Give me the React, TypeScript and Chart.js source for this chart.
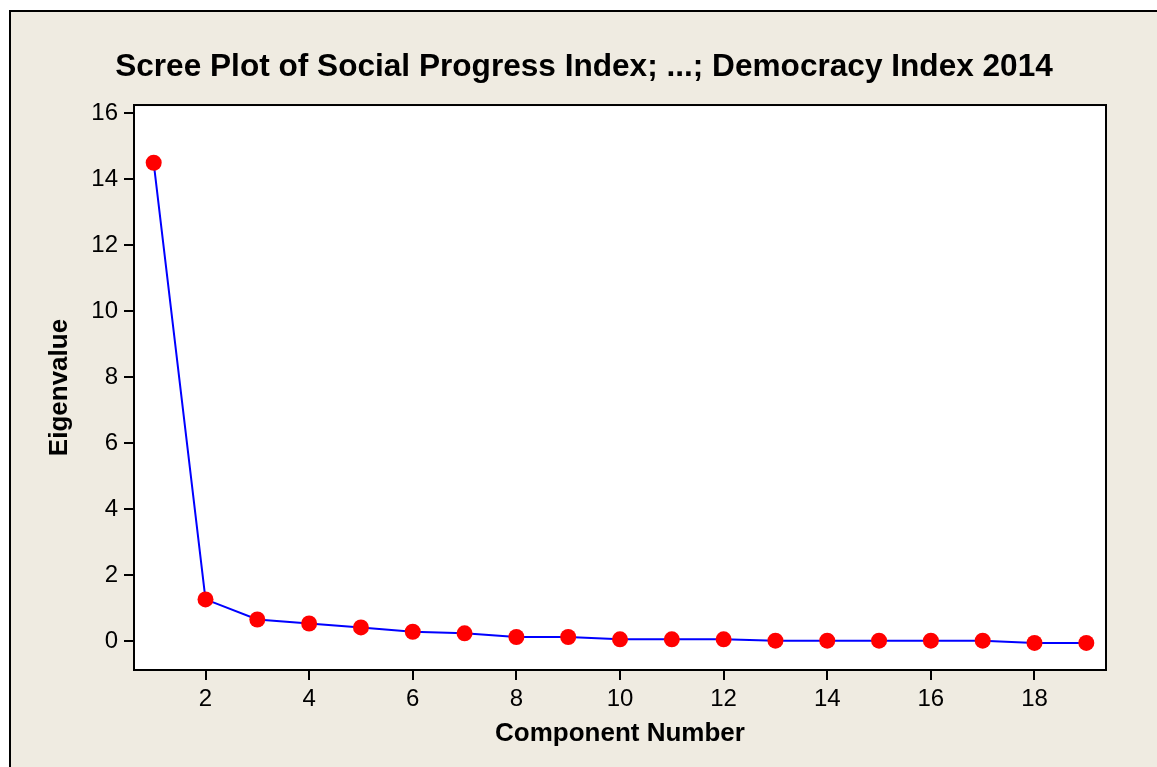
import React, { useEffect, useRef } from "react";
import { Chart, registerables } from "chart.js";

Chart.register(...registerables);

const componentNumbers = [1, 2, 3, 4, 5, 6, 7, 8, 9, 10, 11, 12, 13, 14, 15, 16, 17, 18, 19];
const eigenvalues = [14.5, 1.27, 0.66, 0.54, 0.42, 0.29, 0.24, 0.13, 0.13, 0.06, 0.06, 0.06, 0.02, 0.02, 0.02, 0.02, 0.02, -0.05, -0.05];
const xTickValues = [2, 4, 6, 8, 10, 12, 14, 16, 18];
const yTickValues = [0, 2, 4, 6, 8, 10, 12, 14, 16];
const chartTitle = "Scree Plot of Social Progress Index; ...; Democracy Index 2014";
const xAxisTitle = "Component Number";
const yAxisTitle = "Eigenvalue";

const W = 1157;
const H = 767;
const FONT = "'Liberation Sans', Arial, sans-serif";

const framePlugin = {
  id: "frame",
  beforeDraw(chart: any) {
    const ctx = chart.ctx;
    ctx.save();
    ctx.fillStyle = "#ffffff";
    ctx.fillRect(0, 0, W, H);
    ctx.fillStyle = "#EFEBE1";
    ctx.fillRect(10, 11, W, H);
    ctx.strokeStyle = "#000000";
    ctx.lineWidth = 2;
    ctx.strokeRect(10, 11, W + 40, H + 40);
    const { left, top, right, bottom } = chart.chartArea;
    ctx.fillStyle = "#ffffff";
    ctx.fillRect(left, top, right - left, bottom - top);
    ctx.restore();
  },
  beforeDatasetsDraw(chart: any) {
    const ctx = chart.ctx;
    const { left, top, right, bottom } = chart.chartArea;
    ctx.save();
    ctx.strokeStyle = "#000000";
    ctx.lineWidth = 2;
    ctx.strokeRect(left, top, right - left, bottom - top);
    ctx.restore();
  },
};

export default function App() {
  const ref = useRef<HTMLCanvasElement | null>(null);

  useEffect(() => {
    if (!ref.current) return;
    const chart = new Chart(ref.current, {
      type: "line",
      data: {
        datasets: [
          {
            label: yAxisTitle,
            data: componentNumbers.map((x, i) => ({ x, y: eigenvalues[i] })),
            borderColor: "#0000FF",
            borderWidth: 2,
            pointRadius: 8,
            pointHoverRadius: 8,
            pointBackgroundColor: "#FF0000",
            pointBorderColor: "#FF0000",
            pointBorderWidth: 0,
            tension: 0,
            clip: false as any,
          },
        ],
      },
      options: {
        responsive: false,
        animation: false,
        devicePixelRatio: 1,
        layout: { padding: { left: 11, right: 0, top: 0, bottom: 0 } },
        plugins: {
          legend: { display: false },
          tooltip: { enabled: false },
          title: {
            display: true,
            text: chartTitle,
            color: "#000",
            font: { family: FONT, size: 31.6, weight: "bold" },
            padding: { top: 48, bottom: 19.1 },
          },
        },
        scales: {
          x: {
            type: "linear",
            position: "bottom",
            min: 0.62,
            max: 19.38,
            afterBuildTicks: (s: any) => {
              s.ticks = xTickValues.map((v) => ({ value: v }));
            },
            afterFit: (s: any) => {
              s.height = 97;
            },
            ticks: {
              color: "#000",
              font: { family: FONT, size: 24 },
              padding: 5,
              maxRotation: 0,
              autoSkip: false,
            },
            grid: {
              drawOnChartArea: false,
              drawTicks: true,
              tickLength: 10,
              color: "#000",
              lineWidth: 2,
            },
            border: { display: false },
            title: {
              display: true,
              text: xAxisTitle,
              color: "#000",
              font: { family: FONT, size: 26, weight: "bold" },
              padding: { top: 0, bottom: 18 },
            },
          },
          y: {
            type: "linear",
            position: "left",
            min: -0.87,
            max: 16.25,
            afterBuildTicks: (s: any) => {
              s.ticks = yTickValues.map((v) => ({ value: v }));
            },
            afterFit: (s: any) => {
              s.width = 123;
            },
            ticks: {
              color: "#000",
              font: { family: FONT, size: 24 },
              padding: 6,
              autoSkip: false,
            },
            grid: {
              drawOnChartArea: false,
              drawTicks: true,
              tickLength: 10,
              color: "#000",
              lineWidth: 2,
            },
            border: { display: false },
            title: {
              display: true,
              text: yAxisTitle,
              color: "#000",
              font: { family: FONT, size: 26, weight: "bold" },
              padding: { top: 33, bottom: 0 },
            },
          },
          yRight: {
            type: "linear",
            position: "right",
            display: true,
            afterFit: (s: any) => {
              s.width = 51;
            },
            ticks: { display: false },
            grid: { display: false, drawTicks: false },
            border: { display: false },
          },
        },
      },
      plugins: [framePlugin],
    } as any);
    return () => chart.destroy();
  }, []);

  return (
    <div style={{ position: "absolute", left: 0, top: 0, width: W, height: H }}>
      <canvas ref={ref} width={W} height={H} style={{ display: "block", width: W, height: H }} />
    </div>
  );
}
